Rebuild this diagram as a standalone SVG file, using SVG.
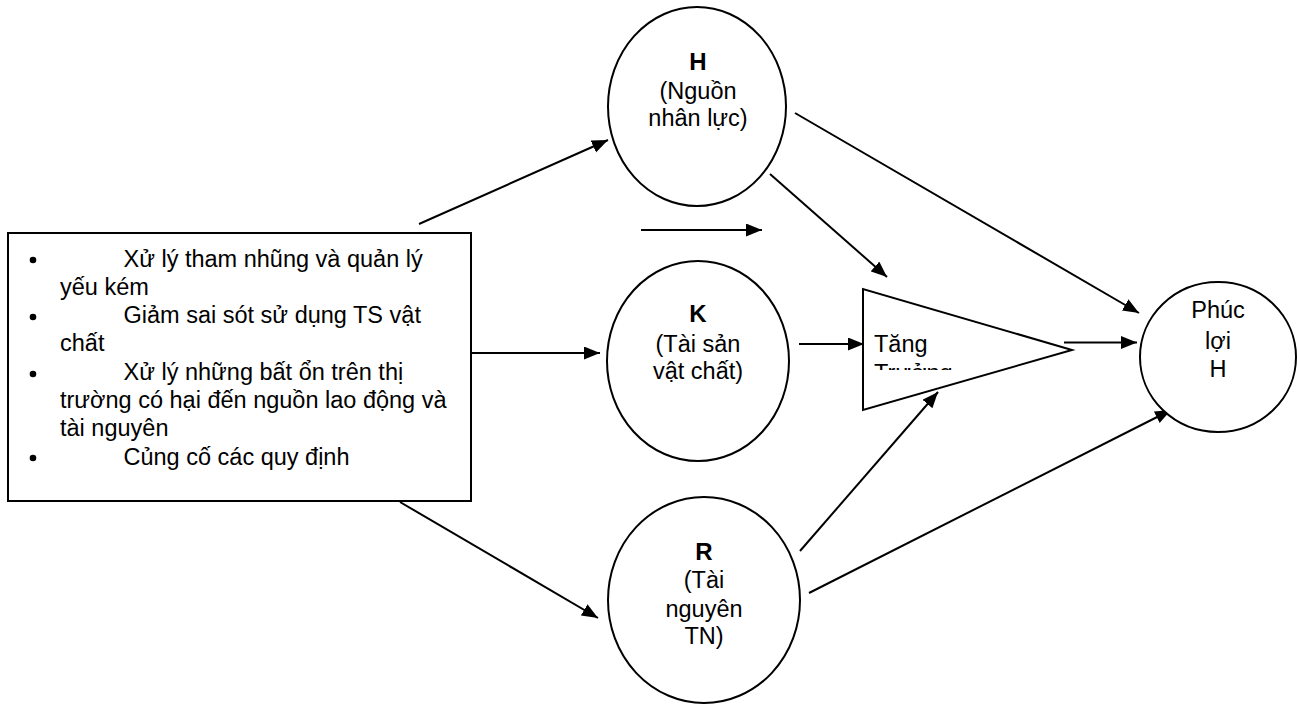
<svg xmlns="http://www.w3.org/2000/svg" width="1297" height="704" viewBox="0 0 1297 704">
<style>
  .shape { fill: #ffffff; stroke: #000000; stroke-width: 2; }
  .edge { fill: none; stroke: #000000; stroke-width: 2; marker-end: url(#arrow); }
  .t { font-family: "Liberation Sans", Arial, sans-serif; font-size: 23.5px; fill: #000000; }
  .c { text-anchor: middle; }
  .b { font-weight: bold; font-size: 24px; }
</style>
<defs>
  <marker id="arrow" markerUnits="userSpaceOnUse" markerWidth="17" markerHeight="14" refX="16" refY="6.5" orient="auto">
    <path d="M0,0 L16,6.5 L0,13 z" fill="#000000"/>
  </marker>
  <clipPath id="triClip">
    <rect x="863" y="289" width="209" height="81"/>
  </clipPath>
</defs>
<rect width="1297" height="704" fill="#ffffff"/>

<g id="connectors">
  <line class="edge" x1="419" y1="224" x2="608" y2="140"/>
  <line class="edge" x1="471" y1="353" x2="600" y2="353"/>
  <line class="edge" x1="400" y1="502" x2="598" y2="618"/>
  <line class="edge" x1="641" y1="230" x2="762" y2="230"/>
  <line class="edge" x1="770" y1="174" x2="887" y2="277"/>
  <line class="edge" x1="795" y1="113" x2="1139" y2="313"/>
  <line class="edge" x1="799" y1="344" x2="864" y2="344"/>
  <line class="edge" x1="1064" y1="342.5" x2="1137" y2="342.5"/>
  <line class="edge" x1="800" y1="551" x2="938" y2="392"/>
  <line class="edge" x1="809" y1="593" x2="1171" y2="410"/>
</g>

<g id="measures">
  <rect class="shape" x="8" y="233" width="463" height="268"/>
  <circle cx="33" cy="260" r="3.3" fill="#000"/>
  <circle cx="33" cy="317" r="3.3" fill="#000"/>
  <circle cx="33" cy="374" r="3.3" fill="#000"/>
  <circle cx="33" cy="458" r="3.3" fill="#000"/>
  <text class="t" x="123.5" y="266.5">Xử lý tham nhũng và quản lý</text>
  <text class="t" x="60" y="294.8">yếu kém</text>
  <text class="t" x="123.5" y="323.1">Giảm sai sót sử dụng TS vật</text>
  <text class="t" x="60" y="351.4">chất</text>
  <text class="t" x="123.5" y="379.7">Xử lý những bất ổn trên thị</text>
  <text class="t" x="60" y="408">trường có hại đến nguồn lao động và</text>
  <text class="t" x="60" y="436.3">tài nguyên</text>
  <text class="t" x="123.5" y="464.6">Củng cố các quy định</text>
</g>

<g id="node-H">
  <ellipse class="shape" cx="697" cy="106.5" rx="89" ry="99.5"/>
  <text class="t c b" x="698" y="70">H</text>
  <text class="t c" x="698" y="99">(Nguồn</text>
  <text class="t c" x="698" y="126">nhân lực)</text>
</g>

<g id="node-K">
  <ellipse class="shape" cx="698" cy="361" rx="91" ry="100"/>
  <text class="t c b" x="698" y="322">K</text>
  <text class="t c" x="698" y="352">(Tài sản</text>
  <text class="t c" x="698" y="379">vật chất)</text>
</g>

<g id="node-R">
  <ellipse class="shape" cx="704" cy="600" rx="96" ry="103"/>
  <text class="t c b" x="704" y="560">R</text>
  <text class="t c" x="704" y="588.3">(Tài</text>
  <text class="t c" x="704" y="616.7">nguyên</text>
  <text class="t c" x="704" y="644.3">TN)</text>
</g>

<g id="node-growth">
  <polygon class="shape" points="863,289 863,410 1072,350"/>
  <g clip-path="url(#triClip)">
    <text class="t" x="874" y="352">Tăng</text>
    <text class="t" x="874" y="381">Trưởng</text>
  </g>
</g>

<g id="node-welfare">
  <ellipse class="shape" cx="1218" cy="357" rx="78" ry="75"/>
  <text class="t c" x="1218" y="318.3">Phúc</text>
  <text class="t c" x="1218" y="349">lợi</text>
  <text class="t c" x="1218" y="377.3">H</text>
</g>
</svg>
